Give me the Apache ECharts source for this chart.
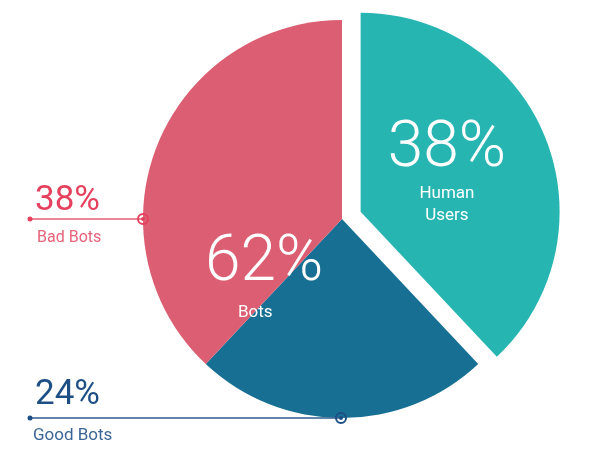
<!DOCTYPE html>
<html>
<head>
<meta charset="utf-8">
<script src="https://cdn.jsdelivr.net/npm/echarts@6/dist/echarts.min.js"></script>
<style>html,body{margin:0;padding:0;background:#fff}#c{width:600px;height:453px}</style>
</head>
<body>
<div id="c"></div>
<script>
const categories = ['Human Users', 'Good Bots', 'Bad Bots'];
const values = [38, 24, 38];
const sliceColors = ['#27b5b2', '#176f93', '#dc5e72'];
const botsLabel = 'Bots';

const botsTotal = values[1] + values[2];
const chart = echarts.init(document.getElementById('c'));
const F = 'Roboto, "Noto Sans", sans-serif';

const data = categories.map((n, i) => ({
  name: n,
  value: values[i],
  selected: i === 0,
  itemStyle: { color: sliceColors[i] },
  label: i === 0 ? {
    show: true,
    position: 'inside',
    padding: [0, 18, 2, 0],
    formatter: '{big|' + values[i] + '%}\n{small|Human}\n{small|Users}',
    rich: {
      big: { fontSize: 64, fontWeight: 300, color: '#fff', fontFamily: F, lineHeight: 64, padding: [0, 0, 2, 0] },
      small: { fontSize: 17, color: '#fff', fontFamily: F, lineHeight: 22 }
    }
  } : { show: false }
}));

chart.setOption({
  animation: false,
  series: [{
    type: 'pie',
    center: [342, 219],
    radius: [0, 199],
    startAngle: 90,
    clockwise: true,
    selectedMode: 'single',
    selectedOffset: 20,
    silent: true,
    labelLine: { show: false },
    data: data
  }],
  graphic: [
    { type: 'text', z: 100, left: 205, top: 232, style: { text: botsTotal + '%', font: '300 64px ' + F, fill: '#fff' } },
    { type: 'text', z: 100, left: 238, top: 304, style: { text: botsLabel, font: '17px ' + F, fill: '#fff' } },

    { type: 'text', z: 100, left: 35, top: 184, style: { text: values[2] + '%', font: '35px ' + F, fill: '#e5415f' } },
    { type: 'text', z: 100, left: 37, top: 230, style: { text: categories[2], font: '16px ' + F, fill: '#e8627a' } },
    { type: 'line', z: 100, shape: { x1: 30, y1: 219, x2: 143, y2: 219 }, style: { stroke: '#e85c75', lineWidth: 1.5 } },
    { type: 'circle', z: 100, shape: { cx: 30, cy: 219, r: 2.5 }, style: { fill: '#e5415f' } },
    { type: 'circle', z: 100, shape: { cx: 143, cy: 219, r: 5 }, style: { fill: 'none', stroke: '#e5415f', lineWidth: 2 } },
    { type: 'circle', z: 100, shape: { cx: 143, cy: 219, r: 2 }, style: { fill: '#e5415f' } },

    { type: 'text', z: 100, left: 35, top: 378, style: { text: values[1] + '%', font: '35px ' + F, fill: '#1d4f85' } },
    { type: 'text', z: 100, left: 33, top: 427, style: { text: categories[1], font: '17px ' + F, fill: '#3b6595' } },
    { type: 'line', z: 100, shape: { x1: 30, y1: 418, x2: 341, y2: 418 }, style: { stroke: '#2f5c8c', lineWidth: 1.5 } },
    { type: 'circle', z: 100, shape: { cx: 30, cy: 418, r: 2.5 }, style: { fill: '#1d4f85' } },
    { type: 'circle', z: 100, shape: { cx: 341, cy: 418, r: 5 }, style: { fill: 'none', stroke: '#1d4f85', lineWidth: 2 } },
    { type: 'circle', z: 100, shape: { cx: 341, cy: 418, r: 2 }, style: { fill: '#1d4f85' } }
  ]
});
</script>
</body>
</html>
